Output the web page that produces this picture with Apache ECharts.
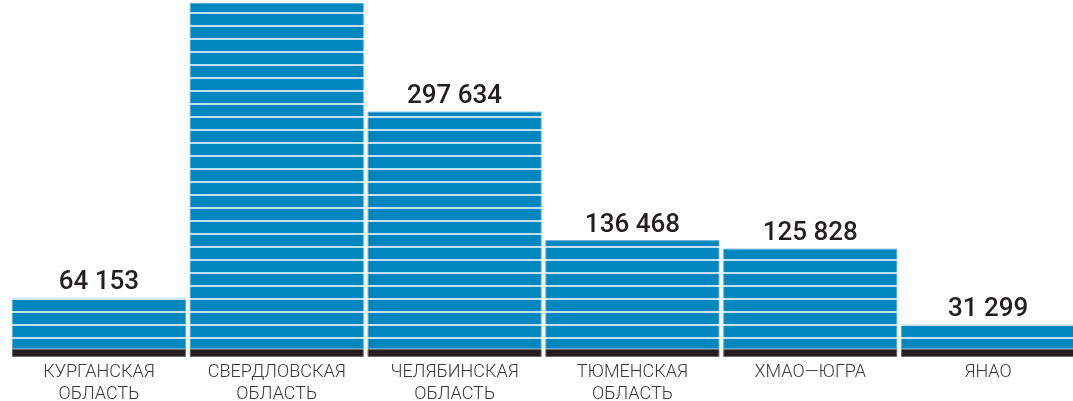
<!DOCTYPE html>
<html>
<head>
<meta charset="utf-8">
<script src="https://cdn.jsdelivr.net/npm/echarts@6/dist/echarts.min.js"></script>
<style>
  html, body { margin: 0; padding: 0; background: #fff; }
  #chart { width: 1073px; height: 401px; }
</style>
</head>
<body>
<div id="chart"></div>
<script>
// regions (Ural federal district)
const categories = [
  "КУРГАНСКАЯ\nОБЛАСТЬ",
  "СВЕРДЛОВСКАЯ\nОБЛАСТЬ",
  "ЧЕЛЯБИНСКАЯ\nОБЛАСТЬ",
  "ТЮМЕНСКАЯ\nОБЛАСТЬ",
  "ХМАО—ЮГРА",
  "ЯНАО"
];
// Sverdlovsk label is cut off in the picture
const values = [64153, 434000, 297634, 136468, 125828, 31299];

// dark foot under every bar (drawn below zero)
const baseDepth = -10032;

const fmt = (v) => String(v).replace(/\B(?=(\d{3})+(?!\d))/g, " ");

const chart = echarts.init(document.getElementById("chart"));

const option = {
  animation: false,
  grid: { left: 10, width: 1067, top: 0, bottom: 37, outerBoundsMode: "none" },
  xAxis: {
    type: "category",
    data: categories,
    axisLine: { show: false },
    axisTick: { show: false },
    axisLabel: {
      interval: 0,
      margin: -3,
      fontFamily: "Roboto",
      fontWeight: 300,
      fontSize: 18,
      lineHeight: 22,
      color: "#3a3a3a"
    }
  },
  yAxis: [
    {
      type: "value",
      min: -18810,
      max: 437646,
      show: false,
      splitLine: { show: false }
    },
    {
      // white stripes across the bars
      type: "value",
      min: -26,
      max: 338,
      interval: 13,
      z: 3,
      axisLine: { show: false },
      axisTick: { show: false },
      axisLabel: { show: false },
      splitLine: { show: true, showMinLine: false, lineStyle: { color: "#ffffff", width: 1.6 } }
    }
  ],
  series: [
    {
      type: "bar",
      data: values,
      barWidth: 174,
      z: 2,
      itemStyle: { color: "#0087bf", borderColor: "#55acd6", borderWidth: 1 }
    },
    {
      type: "bar",
      data: values.map(() => baseDepth),
      barWidth: 174,
      barGap: "-100%",
      z: 4,
      itemStyle: { color: "#231f20", borderColor: "#6a6869", borderWidth: 1 }
    },
    {
      // labels on top of the stripes
      type: "bar",
      data: values,
      barWidth: 174,
      barGap: "-100%",
      z: 5,
      itemStyle: { color: "rgba(0,0,0,0)" },
      label: {
        show: true,
        position: "top",
        distance: 2,
        fontFamily: "Roboto",
        fontWeight: 500,
        fontSize: 26,
        color: "#231f20",
        formatter: (p) => fmt(p.value)
      }
    }
  ]
};

chart.setOption(option);
</script>
</body>
</html>
